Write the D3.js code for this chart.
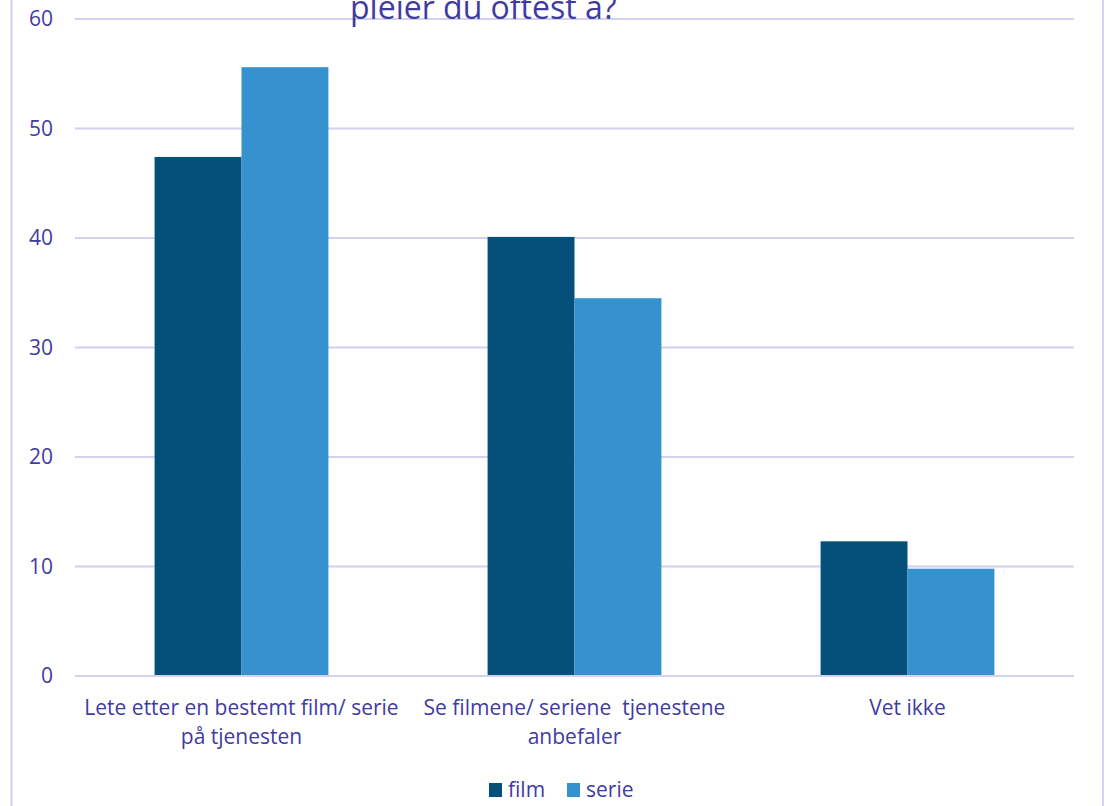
<!DOCTYPE html>
<html><head><meta charset="utf-8">
<script src="https://cdn.jsdelivr.net/npm/d3@7"></script>
<style>body{margin:0;background:#fff;}svg{display:block;font-family:"Open Sans",sans-serif;}text{white-space:pre;}</style>
</head><body>
<svg id="c" width="1106" height="806"></svg>
<script>
const categories = [["Lete etter en bestemt film/ serie","på tjenesten"],["Se filmene/ seriene  tjenestene","anbefaler"],["Vet ikke"]];
const seriesNames = ["film","serie"];
const film = [47.4, 40.1, 12.3];
const serie = [55.6, 34.5, 9.8];
const yTicks = [0,10,20,30,40,50,60];
const colors = ["#04507A","#3592CF"];
const textColor = "#3F3BA3";
const gridColor = "#D3D0F0";

const svg = d3.select("#c");
svg.append("rect").attr("x",11.5).attr("y",-2).attr("width",1091.5).attr("height",812)
  .attr("fill","none").attr("stroke",gridColor).attr("stroke-width",2);

const x0 = d3.scaleBand().domain(d3.range(categories.length)).range([75,1074]);
const bw = x0.bandwidth();
const x1 = d3.scaleBand().domain(seriesNames).range([bw*0.239, bw*0.761]);
const y = d3.scaleLinear().domain([0,60]).range([676,19]);

svg.append("g").selectAll("line").data(yTicks).join("line")
  .attr("x1",75).attr("x2",1074).attr("y1",d=>y(d)).attr("y2",d=>y(d))
  .attr("stroke",gridColor).attr("stroke-width",2);

svg.append("g").selectAll("text").data(yTicks).join("text")
  .attr("x",53).attr("y",d=>y(d)+7).attr("text-anchor","end")
  .attr("fill",textColor).attr("font-size",21).text(d=>d);

const vals = [film, serie];
const g = svg.append("g");
seriesNames.forEach((s,si)=>{
  g.selectAll(null).data(vals[si]).join("rect")
    .attr("x",(d,i)=>x0(i)+x1(s)).attr("width",x1.bandwidth())
    .attr("y",d=>y(d)).attr("height",d=>y(0)-y(d)-1)
    .attr("fill",colors[si]);
});

const cl = svg.append("g");
categories.forEach((lines,i)=>{
  const t = cl.append("text").attr("text-anchor","middle").attr("fill",textColor).attr("font-size",21);
  lines.forEach((ln,j)=>{
    t.append("tspan").attr("x",x0(i)+bw/2).attr("y",715+j*29).text(ln);
  });
});

svg.append("text").attr("x",350).attr("y",19).attr("fill",textColor).attr("font-size",32).text("pleier du oftest å?");

const lg = svg.append("g");
const lx = [489, 567];
seriesNames.forEach((s,i)=>{
  lg.append("rect").attr("x",lx[i]).attr("y",783).attr("width",13).attr("height",14).attr("fill",colors[i]);
  lg.append("text").attr("x",lx[i]+19).attr("y",797).attr("fill",textColor).attr("font-size",21).text(s);
});
</script>
</body></html>
